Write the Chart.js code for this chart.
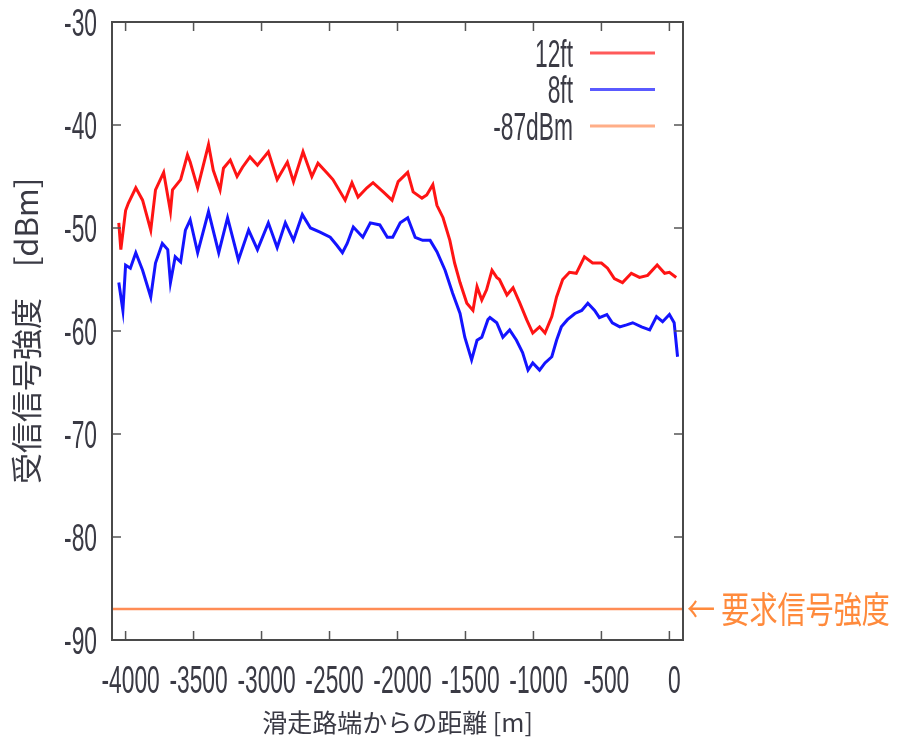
<!DOCTYPE html>
<html>
<head>
<meta charset="utf-8">
<script src="https://cdn.jsdelivr.net/npm/chart.js@4/dist/chart.umd.min.js"></script>
<style>
  body { margin: 0; background: #fff; }
</style>
</head>
<body>
<canvas id="signalChart" width="898" height="750"></canvas>
<script>
'use strict';

// distance from runway end [m] and received level [dBm]
const redX = [-4050, -4035, -4000, -3980, -3925, -3875, -3815, -3780, -3720, -3670, -3655, -3595, -3545, -3525, -3470, -3390, -3355, -3305, -3280, -3230, -3180, -3140, -3085, -3030, -2950, -2885, -2810, -2765, -2695, -2630, -2585, -2515, -2475, -2385, -2335, -2290, -2225, -2180, -2105, -2040, -1995, -1925, -1885, -1820, -1785, -1740, -1710, -1665, -1615, -1580, -1540, -1490, -1445, -1415, -1380, -1345, -1305, -1270, -1250, -1195, -1150, -1100, -1050, -1005, -955, -915, -865, -830, -785, -735, -685, -625, -565, -500, -455, -405, -345, -280, -220, -160, -90, -35, 0, 50];
const redY = [-49.5, -52.1, -48.3, -47.6, -46.1, -47.3, -50.2, -46.3, -44.6, -48.4, -46.3, -45.3, -42.9, -43.6, -46.1, -41.9, -44.4, -46.3, -44.2, -43.4, -45.0, -44.1, -43.1, -43.9, -42.6, -45.3, -43.6, -45.5, -42.6, -45.0, -43.7, -44.7, -45.3, -47.3, -45.6, -47.0, -46.1, -45.6, -46.5, -47.3, -45.5, -44.6, -46.5, -47.1, -46.8, -45.8, -47.8, -49.0, -51.2, -53.4, -55.3, -57.3, -58.0, -55.7, -57.0, -56.0, -54.1, -54.8, -55.0, -56.5, -55.8, -57.3, -58.9, -60.2, -59.6, -60.2, -58.6, -56.7, -55.0, -54.3, -54.4, -52.8, -53.4, -53.4, -53.9, -54.9, -55.3, -54.4, -54.8, -54.6, -53.6, -54.4, -54.3, -54.8];

const blueX = [-4050, -4020, -4000, -3965, -3925, -3875, -3815, -3780, -3730, -3690, -3670, -3635, -3595, -3560, -3525, -3470, -3390, -3315, -3250, -3170, -3095, -3030, -2950, -2885, -2825, -2765, -2700, -2640, -2570, -2495, -2445, -2405, -2370, -2325, -2255, -2200, -2130, -2075, -2035, -1980, -1925, -1870, -1815, -1760, -1710, -1650, -1595, -1540, -1505, -1455, -1415, -1380, -1335, -1320, -1270, -1225, -1175, -1125, -1080, -1040, -1005, -955, -915, -865, -830, -795, -750, -695, -645, -600, -550, -515, -460, -420, -365, -315, -270, -205, -145, -95, -50, 0, 35, 60];
const blueY = [-55.3, -58.0, -53.6, -53.9, -52.4, -54.1, -56.7, -53.4, -51.5, -52.1, -55.3, -52.8, -53.3, -50.2, -49.2, -52.4, -48.4, -52.4, -49.0, -53.1, -50.2, -52.1, -49.5, -51.9, -49.5, -51.2, -48.7, -50.0, -50.4, -50.9, -51.7, -52.4, -51.5, -49.9, -50.9, -49.5, -49.7, -50.9, -50.9, -49.5, -49.0, -50.9, -51.2, -51.2, -52.3, -54.1, -56.3, -58.3, -60.6, -62.8, -60.9, -60.6, -58.9, -58.7, -59.2, -60.6, -59.9, -60.9, -62.1, -63.8, -63.1, -63.8, -63.1, -62.5, -60.9, -59.6, -58.9, -58.3, -58.0, -57.3, -58.0, -58.7, -58.4, -59.2, -59.6, -59.4, -59.2, -59.6, -59.9, -58.6, -59.1, -58.4, -59.2, -62.5];

// required signal level
const requiredX = [-4100, 100];
const requiredY = [-87, -87];

const seriesLabels = ['12ft', '8ft', '-87dBm'];
const seriesColors = ['#ff1414', '#1414ff', '#ff8c55'];

const xMin = -4100, xMax = 100, xStep = 500;
const yMin = -90, yMax = -30, yStep = 10;

const xTitle = '滑走路端からの距離 [m]';
const yTitle = '受信信号強度　[dBm]';
const noteText = '← 要求信号強度';

const latinFont = "'Liberation Sans', Arial, sans-serif";
const cjkFont = "'Noto Sans CJK JP', 'Noto Sans', sans-serif";
const textColor = '#3a3a44';
const noteColor = '#ff8a3c';

// the original lettering is tall and narrow
const labelSize = 38;
const labelSqueeze = 0.6;


function toPoints(xs, ys) {
    return xs.map((x, i) => ({ x: x, y: ys[i] }));
}


function stepTicks(step) {
    return function (scale) {
        let ticks = [];
        for (let v = Math.ceil(scale.min / step) * step; v <= scale.max; v += step) {
            ticks.push({ value: v });
        }
        scale.ticks = ticks;
    };
}


// draws text squeezed horizontally; align is 'left', 'right' or 'center'
function squeezedText(ctx, text, x, y, align, sx) {
    ctx.save();
    ctx.translate(x, y);
    ctx.scale(sx, 1);
    ctx.textAlign = align;
    ctx.fillText(text, 0, 0);
    ctx.restore();
}


// gnuplot style frame with inward ticks on all four sides, plus tick labels
const framePlugin = {
    id: 'frame',
    afterDatasetsDraw(chart) {
        const ctx = chart.ctx;
        const area = chart.chartArea;
        const xs = chart.scales.x;
        const ys = chart.scales.y;
        const len = 9;

        ctx.save();
        ctx.strokeStyle = '#555';
        ctx.lineWidth = 1.5;
        ctx.beginPath();
        xs.ticks.forEach((t) => {
            let px = xs.getPixelForValue(t.value);
            ctx.moveTo(px, area.bottom);
            ctx.lineTo(px, area.bottom - len);
            ctx.moveTo(px, area.top);
            ctx.lineTo(px, area.top + len);
        });
        ys.ticks.forEach((t) => {
            let py = ys.getPixelForValue(t.value);
            ctx.moveTo(area.left, py);
            ctx.lineTo(area.left + len, py);
            ctx.moveTo(area.right, py);
            ctx.lineTo(area.right - len, py);
        });
        ctx.stroke();

        ctx.lineWidth = 2;
        ctx.strokeStyle = '#4a4a4a';
        ctx.strokeRect(area.left, area.top, area.right - area.left, area.bottom - area.top);

        ctx.font = labelSize + 'px ' + latinFont;
        ctx.fillStyle = textColor;
        ctx.textBaseline = 'alphabetic';
        let half = labelSize * 0.36;
        xs.ticks.forEach((t) => {
            let px = xs.getPixelForValue(t.value);
            squeezedText(ctx, String(t.value), px + 5, area.bottom + 39 + half, 'center', labelSqueeze);
        });
        ys.ticks.forEach((t) => {
            let py = ys.getPixelForValue(t.value);
            squeezedText(ctx, String(t.value), area.left - 15, py + half, 'right', labelSqueeze);
        });
        ctx.restore();
    }
};


// legend drawn inside the plot: label right aligned, line sample to the right
const keyPlugin = {
    id: 'key',
    afterDraw(chart) {
        const ctx = chart.ctx;
        const area = chart.chartArea;
        const textRight = area.right - 110;
        const lineLeft = area.right - 93;
        const lineRight = area.right - 28;
        let half = labelSize * 0.36;

        ctx.save();
        ctx.font = labelSize + 'px ' + latinFont;
        ctx.textBaseline = 'alphabetic';
        seriesLabels.forEach((label, i) => {
            let y = area.top + 31 + i * 36.5;
            ctx.fillStyle = textColor;
            squeezedText(ctx, label, textRight, y + half, 'right', labelSqueeze);
            ctx.strokeStyle = seriesColors[i];
            ctx.globalAlpha = 0.7;
            ctx.lineWidth = 3;
            ctx.beginPath();
            ctx.moveTo(lineLeft, y);
            ctx.lineTo(lineRight, y);
            ctx.stroke();
            ctx.globalAlpha = 1;
        });

        // note to the right of the required level line
        let ny = chart.scales.y.getPixelForValue(requiredY[0]);
        ctx.font = '36px ' + cjkFont;
        ctx.textBaseline = 'middle';
        ctx.fillStyle = noteColor;
        squeezedText(ctx, noteText, area.right + 4, ny, 'left', 0.78);
        ctx.restore();
    }
};


let lineStyle = {
    fill: false,
    tension: 0,
    pointRadius: 0,
    borderWidth: 3
};

new Chart(document.getElementById('signalChart').getContext('2d'), {
    type: 'line',
    data: {
        datasets: [
            Object.assign({ label: seriesLabels[0], data: toPoints(redX, redY), borderColor: seriesColors[0] }, lineStyle),
            Object.assign({ label: seriesLabels[1], data: toPoints(blueX, blueY), borderColor: seriesColors[1] }, lineStyle),
            Object.assign({ label: seriesLabels[2], data: toPoints(requiredX, requiredY), borderColor: seriesColors[2] }, lineStyle, { borderWidth: 2.5 })
        ]
    },
    options: {
        responsive: false,
        animation: false,
        events: [],
        layout: { padding: { left: 0, right: 215, top: 22, bottom: 0 } },
        plugins: { legend: { display: false }, tooltip: { enabled: false } },
        scales: {
            x: {
                type: 'linear',
                min: xMin,
                max: xMax,
                grid: { display: false, drawTicks: false },
                border: { display: false },
                ticks: { display: false },
                afterBuildTicks: stepTicks(xStep),
                afterFit: (s) => { s.height = 110; },
                title: {
                    display: true,
                    text: xTitle,
                    color: textColor,
                    font: { family: cjkFont, size: 25 },
                    padding: { top: 0, bottom: 13 }
                }
            },
            y: {
                type: 'linear',
                min: yMin,
                max: yMax,
                grid: { display: false, drawTicks: false },
                border: { display: false },
                ticks: { display: false },
                afterBuildTicks: stepTicks(yStep),
                afterFit: (s) => { s.width = 112; },
                title: {
                    display: true,
                    text: yTitle,
                    color: textColor,
                    font: { family: cjkFont, size: 31 },
                    padding: { top: 8, bottom: 0 }
                }
            }
        }
    },
    plugins: [framePlugin, keyPlugin]
});
</script>
</body>
</html>
